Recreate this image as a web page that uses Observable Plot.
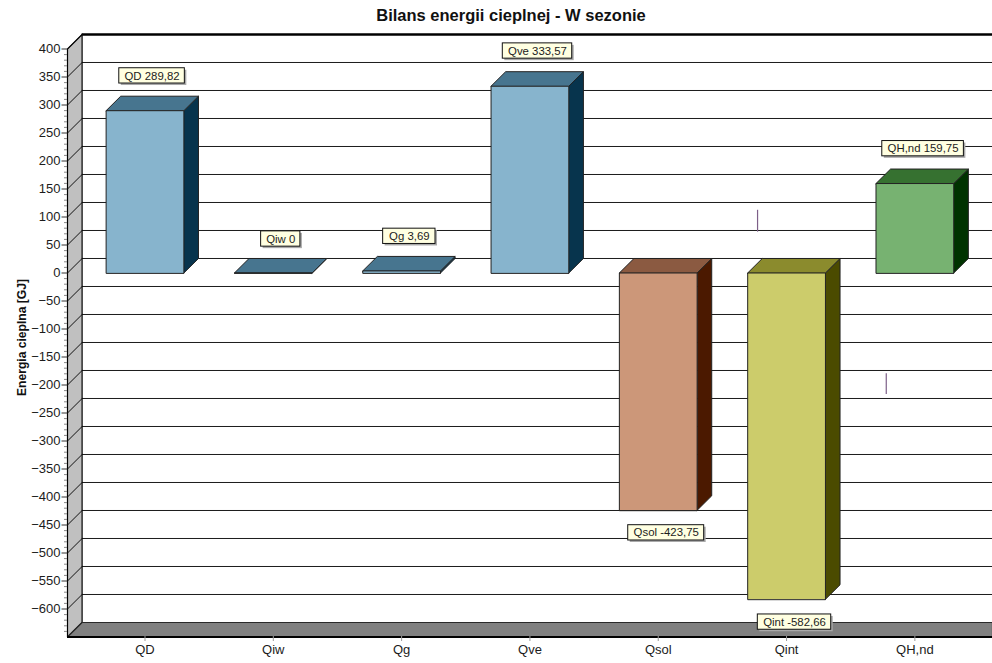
<!DOCTYPE html>
<html lang="pl">
<head>
<meta charset="utf-8">
<title>Bilans energii cieplnej</title>
<script src="https://cdn.jsdelivr.net/npm/d3@7"></script>
<script src="https://cdn.jsdelivr.net/npm/@observablehq/plot@0.6"></script>
<style>
  html, body { margin: 0; background: #fff; }
  svg { display: block; }
</style>
</head>
<body>
<div id="chart"></div>
<script>
// Heat balance of the season, GJ
const categories = ["QD", "Qiw", "Qg", "Qve", "Qsol", "Qint", "QH,nd"];
const values = [289.82, 0, 3.69, 333.57, -423.75, -582.66, 159.75];

// Front, top and side shades per bar
const frontColors = ["#87b4cd", "#87b4cd", "#87b4cd", "#87b4cd", "#cc9779", "#cccc6b", "#77b271"];
const topColors = ["#47758f", "#47758f", "#47758f", "#47758f", "#8b5a41", "#8b8b2d", "#367130"];
const sideColors = ["#07344d", "#07344d", "#07344d", "#07344d", "#4b1900", "#4b4b00", "#003300"];

// Callout placement: centre in category units and GJ, width in category units
const calloutX = [0.055, 1.058, 2.06, 3.059, 4.062, 5.062, 6.064];
const calloutY = [352, 60.7, 65.5, 396.4, -464, -623.4, 222];
const calloutW = [0.511, 0.306, 0.408, 0.541, 0.592, 0.572, 0.636];
const calloutH = 27.3;

// Two stray vertical strokes on the plot
const strayX = [4.774, 5.777];
const strayFrom = [112, -180];
const strayTo = [73, -217];

const yMin = -650, yMax = 400;
const xMin = -0.604, xMax = 6.605;
const depthX = 0.1138, depthY = 25.9; // oblique depth of the 3D projection
const halfBar = 0.303;

const majorTicks = d3.range(-600, 401, 50);
const minorTicks = d3.range(-640, 401, 10).filter(v => v % 50 !== 0);
const gridValues = d3.range(-600, 351, 50);

const label = (name, v) => `${name} ${String(v).replace(".", ",")}`;

// Closed polygon helper: rows share an id so the line mark closes each shape
const polygon = (id, color, pts) => pts.map(([x, y]) => ({id, color, x, y}));

const wall = polygon("wall", "#c0c0c0", [
  [xMin, yMax], [xMin + depthX, yMax + depthY], [xMin + depthX, yMin + depthY], [xMin, yMin]
]);
const floor = polygon("floor", "#808080", [
  [xMin, yMin], [xMin + depthX, yMin + depthY], [xMax, yMin + depthY], [xMax, yMin]
]);

const barFaces = categories.flatMap((name, i) => {
  const v = values[i];
  const hi = Math.max(v, 0), lo = Math.min(v, 0);
  const l = i - halfBar, r = i + halfBar;
  return [
    ...polygon(name + "-side", sideColors[i], [
      [r, lo], [r + depthX, lo + depthY], [r + depthX, hi + depthY], [r, hi]
    ]),
    ...polygon(name + "-top", topColors[i], [
      [l, hi], [l + depthX, hi + depthY], [r + depthX, hi + depthY], [r, hi]
    ]),
    ...polygon(name + "-front", frontColors[i], [
      [l, lo], [l, hi], [r, hi], [r, lo]
    ])
  ];
});

const callouts = categories.map((name, i) => ({
  text: label(name, values[i]),
  x: calloutX[i],
  y: calloutY[i],
  x1: calloutX[i] - calloutW[i] / 2,
  x2: calloutX[i] + calloutW[i] / 2,
  y1: calloutY[i] - calloutH / 2,
  y2: calloutY[i] + calloutH / 2
}));

const strays = strayX.map((x, i) => ({x, y1: strayFrom[i], y2: strayTo[i]}));

const chart = Plot.plot({
  width: 992,
  height: 663,
  marginLeft: 67,
  marginRight: 0,
  marginTop: 0,
  marginBottom: 27,
  style: {fontFamily: "'Liberation Sans', Arial, sans-serif", background: "#fff", overflow: "hidden"},
  x: {domain: [xMin, xMax], range: [67, 992]},
  y: {domain: [yMin, yMax], range: [636.5, 48.5]},
  color: {type: "identity"},
  marks: [
    // back plane grid
    Plot.ruleY(gridValues, {y: d => d + depthY, x1: xMin + depthX, x2: xMax, stroke: "#1c1c1c", strokeWidth: 1}),
    Plot.ruleY([yMax + depthY], {x1: xMin + depthX, x2: xMax, stroke: "#000", strokeWidth: 2.5}),

    // side wall and floor
    Plot.line(wall, {x: "x", y: "y", z: "id", fill: "color", stroke: "#000", strokeWidth: 1.2, curve: "linear-closed"}),
    Plot.line(floor, {x: "x", y: "y", z: "id", fill: "color", stroke: "#2a2a2a", strokeWidth: 1.2, curve: "linear-closed"}),
    ...majorTicks.map(v => Plot.line([[xMin, v], [xMin + depthX, v + depthY]], {stroke: "#111", strokeWidth: 1})),
    Plot.ruleY([yMin], {x1: xMin, x2: xMax, stroke: "#000", strokeWidth: 2}),

    // axes
    Plot.axisY({ticks: minorTicks, tickSize: 3, tickFormat: () => "", stroke: "#888", label: null}),
    Plot.axisY({ticks: majorTicks, tickSize: 5.5, tickPadding: 1.5, fontSize: 13, fill: "#1c1c1c", stroke: "#333", label: null}),
    Plot.axisX({ticks: d3.range(categories.length), tickFormat: i => categories[i], tickSize: 5, tickPadding: 3, fontSize: 13, fill: "#1c1c1c", stroke: "#999", label: null}),

    // stray strokes
    Plot.ruleX(strays, {x: "x", y1: "y1", y2: "y2", stroke: "#7d5f88", strokeWidth: 1.2}),

    // bars, three faces each
    Plot.line(barFaces, {x: "x", y: "y", z: "id", fill: "color", stroke: "#222", strokeWidth: 1, curve: "linear-closed"}),

    // value callouts
    Plot.rect(callouts, {x1: "x1", x2: "x2", y1: "y1", y2: "y2", fill: "#a9a9a9", dx: 2, dy: 2}),
    Plot.rect(callouts, {x1: "x1", x2: "x2", y1: "y1", y2: "y2", fill: "#ffffe1", stroke: "#111", strokeWidth: 1}),
    Plot.text(callouts, {x: "x", y: "y", text: "text", fontSize: 11.4, fill: "#1c1c1c"}),

    // title and axis name
    Plot.text(["Bilans energii cieplnej - W sezonie"], {
      frameAnchor: "top", dx: -19, dy: 15.5, lineAnchor: "middle",
      fontSize: 16.5, fontWeight: "bold", fill: "#111"
    }),
    Plot.text(["Energia cieplna [GJ]"], {
      frameAnchor: "left", textAnchor: "middle", dx: -45, dy: 19, rotate: -90,
      fontSize: 12.1, fontWeight: "bold", fill: "#111"
    })
  ]
});

document.getElementById("chart").append(chart);
</script>
</body>
</html>
